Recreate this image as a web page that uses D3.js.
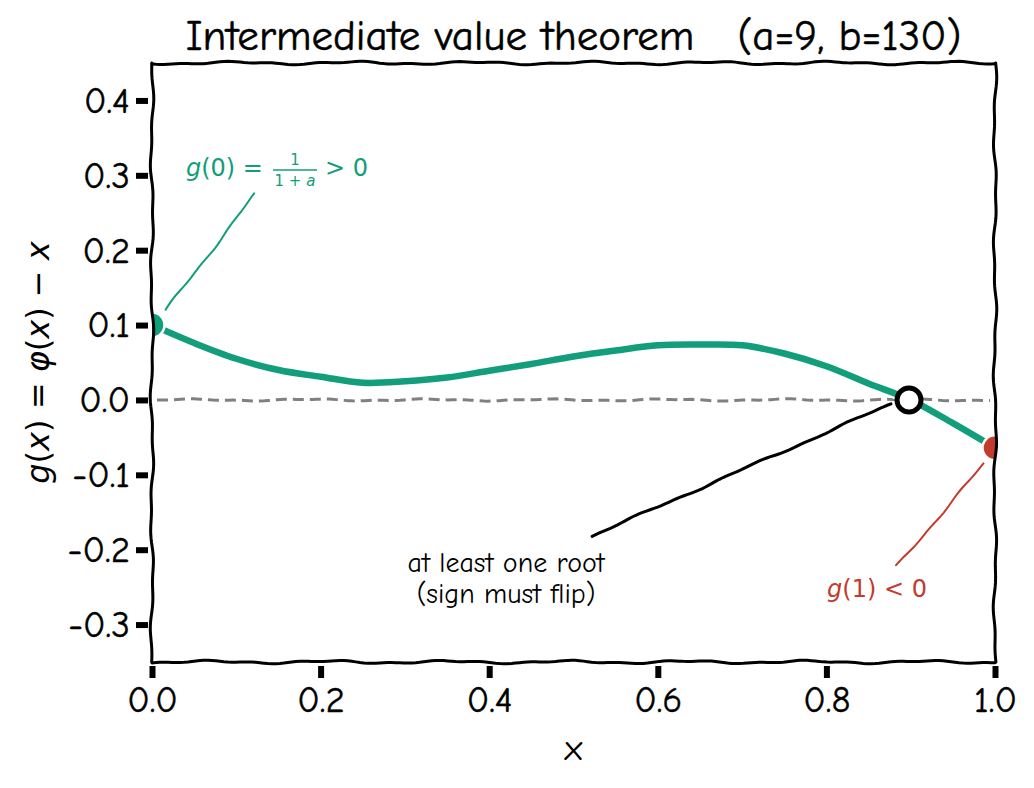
<!DOCTYPE html>
<html><head><meta charset="utf-8">
<script src="https://cdn.jsdelivr.net/npm/d3@7"></script>
<style>
html,body{margin:0;padding:0;background:#fff;}
svg{display:block;}
.comic{font-family:"Comic Sans MS","Comic Neue","Humor Sans","Noto Sans",sans-serif;}
.math{font-family:"DejaVu Sans",sans-serif;}
</style></head>
<body>
<svg id="chart" width="1034" height="788"></svg>
<script>
// ---- data ----
const xValues = [0.00,0.05,0.10,0.15,0.20,0.25,0.30,0.35,0.40,0.45,0.50,0.55,0.60,0.65,0.70,0.75,0.80,0.85,0.90,0.95,1.00];
const gValues = [0.100,0.076,0.055,0.040,0.031,0.023,0.025,0.030,0.039,0.048,0.058,0.066,0.073,0.074,0.073,0.062,0.045,0.022,0.000,-0.031,-0.064];
const xTicks = [0.0,0.2,0.4,0.6,0.8,1.0];
const yTicks = [-0.3,-0.2,-0.1,0.0,0.1,0.2,0.3,0.4];
const rootX = 0.898;
const g0 = 0.100, g1 = -0.064;
const titleText = "Intermediate value theorem   (a=9, b=130)";

const svg = d3.select("#chart");
const margin = {left:152, right:1034-995, top:63, bottom:788-662};
const W = 1034, H = 788;
const x = d3.scaleLinear().domain([0,1]).range([margin.left, W-margin.right]);
const y = d3.scaleLinear().domain([-0.35,0.45]).range([H-margin.bottom, margin.top]);

const green = "#129e7a", red = "#c23b2c";

// deterministic hand-drawn wobble (style only)
function sketch(pts, amp=1.6, seed=0){
  const out=[]; let t=0;
  for(let i=0;i<pts.length-1;i++){
    const [x0,y0]=pts[i],[x1,y1]=pts[i+1];
    const L=Math.hypot(x1-x0,y1-y0), n=Math.max(1,Math.ceil(L/4));
    const nx=-(y1-y0)/L, ny=(x1-x0)/L;
    for(let k=0;k<=n;k++){
      if(k===0 && i>0) continue;
      const f=k/n, tt=t+f*L;
      const d=amp*(0.65*Math.sin(tt/19+seed)+0.35*Math.sin(tt/7.3+seed*2.1));
      out.push([x0+(x1-x0)*f+nx*d, y0+(y1-y0)*f+ny*d]);
    }
    t+=L;
  }
  return out;
}
const line = d3.line();

const [xl,xr]=x.range(), [yb,yt]=y.range();

svg.append("defs").append("clipPath").attr("id","clip")
  .append("rect").attr("x",xl).attr("y",yt).attr("width",xr-xl).attr("height",yb-yt);

// zero dashed line
svg.append("path").attr("d",line(sketch([[x(0)+5,y(0)],[x(1)-5,y(0)]],1.2,3)))
  .attr("fill","none").attr("stroke","#808080").attr("stroke-width",3).attr("stroke-dasharray","11,6");

// curve
const plot = svg.append("g").attr("clip-path","url(#clip)");
const curveLine = d3.line().x((d,i)=>x(xValues[i])).y(d=>y(d)).curve(d3.curveCatmullRom.alpha(0.5));
plot.append("path").datum(gValues).attr("d",curveLine)
  .attr("fill","none").attr("stroke","#fff").attr("stroke-width",11).attr("stroke-linecap","round");
plot.append("path").datum(gValues).attr("d",curveLine)
  .attr("fill","none").attr("stroke",green).attr("stroke-width",6.5).attr("stroke-linecap","round");

// end markers (clipped)
plot.append("circle").attr("cx",x(0)).attr("cy",y(g0)).attr("r",12.5).attr("fill",green).attr("stroke","#fff").attr("stroke-width",2.5);
plot.append("circle").attr("cx",x(1)).attr("cy",y(g1)).attr("r",12.5).attr("fill",red).attr("stroke","#fff").attr("stroke-width",2.5);

// root marker
svg.append("circle").attr("cx",x(rootX)).attr("cy",y(0)).attr("r",12)
  .attr("fill","#fff").attr("stroke","#000").attr("stroke-width",5);

// annotation lines
function annLine(p0,p1,color,w,seed){
  const d=line(sketch([p0,p1],1.3,seed));
  svg.append("path").attr("d",d).attr("fill","none").attr("stroke","#fff").attr("stroke-width",w+4);
  svg.append("path").attr("d",d).attr("fill","none").attr("stroke",color).attr("stroke-width",w).attr("stroke-linecap","round");
}
annLine([255,194],[x(0)+14,y(g0)-15],green,2,1);
annLine([897,566],[x(1)-11,y(g1)+16],red,2,5);
annLine([592,536],[x(rootX)-18,y(0)+4],"#000",3,2);

// spines
const sp = {fill:"none",stroke:"#000","stroke-width":3,"stroke-linecap":"round"};
function spine(p0,p1,seed){
  const p=svg.append("path").attr("d",line(sketch([p0,p1],1.8,seed)));
  Object.entries(sp).forEach(([k,v])=>p.attr(k,v));
}
spine([xl,yt],[xr,yt],0.4);
spine([xl,yb],[xr,yb],1.7);
spine([xl,yt],[xl,yb],2.9);
spine([xr,yt],[xr,yb],4.2);

// axes
const xAxis = d3.axisBottom(x).tickValues(xTicks).tickFormat(d3.format(".1f")).tickSize(12).tickPadding(8);
const yAxis = d3.axisLeft(y).tickValues(yTicks).tickFormat(d=>d3.format(".1f")(d).replace("−","-")).tickSize(12).tickPadding(6);
const gx = svg.append("g").attr("transform",`translate(0,${yb+4})`).call(xAxis);
const gy = svg.append("g").attr("transform",`translate(${xl-4},0)`).call(yAxis);
[gx,gy].forEach(g=>{
  g.select(".domain").remove();
  g.selectAll(".tick line").attr("stroke","#000").attr("stroke-width",6);
  g.selectAll(".tick text").attr("class","comic").attr("font-size",37).attr("fill","#000")
    .attr("stroke","#000").attr("stroke-width",0.4);
});

// title & axis labels
svg.append("text").attr("class","comic").attr("x",(xl+xr)/2).attr("y",50)
  .attr("text-anchor","middle").attr("font-size",43).attr("fill","#000")
  .attr("stroke","#000").attr("stroke-width",0.5)
  .attr("xml:space","preserve").style("white-space","pre").text(titleText);
svg.append("text").attr("class","comic").attr("x",(xl+xr)/2).attr("y",760)
  .attr("text-anchor","middle").attr("font-size",37).attr("fill","#000").text("x");

const yl = svg.append("text").attr("class","math").attr("font-size",32).attr("fill","#000")
  .attr("text-anchor","middle").attr("transform",`translate(49,${(yt+yb)/2}) rotate(-90)`);
yl.append("tspan").attr("font-style","italic").text("g");
yl.append("tspan").text("(");
yl.append("tspan").attr("font-style","italic").text("x");
yl.append("tspan").text(") = ");
yl.append("tspan").attr("font-style","italic").text("φ");
yl.append("tspan").text("(");
yl.append("tspan").attr("font-style","italic").text("x");
yl.append("tspan").text(") − ");
yl.append("tspan").attr("font-style","italic").text("x");

// green annotation text g(0) = 1/(1+a) > 0
const ga = svg.append("g").attr("fill",green).attr("class","math");
const t1 = ga.append("text").attr("x",186).attr("y",176).attr("font-size",24);
t1.append("tspan").attr("font-style","italic").text("g");
t1.append("tspan").text("(0) =");
ga.append("text").attr("x",295).attr("y",165).attr("text-anchor","middle").attr("font-size",15).text("1");
ga.append("line").attr("x1",273).attr("x2",317).attr("y1",170).attr("y2",170).attr("stroke",green).attr("stroke-width",1.5);
const t2 = ga.append("text").attr("x",295).attr("y",186).attr("text-anchor","middle").attr("font-size",15);
t2.append("tspan").text("1 + ");
t2.append("tspan").attr("font-style","italic").text("a");
ga.append("text").attr("x",325).attr("y",176).attr("font-size",24).attr("xml:space","preserve").text("> 0");

// red annotation
const ra = svg.append("text").attr("class","math").attr("fill",red).attr("font-size",24)
  .attr("x",877).attr("y",597).attr("text-anchor","middle");
ra.append("tspan").attr("font-style","italic").text("g");
ra.append("tspan").text("(1) < 0");

// black annotation
const ba = svg.append("text").attr("class","comic").attr("font-size",28).attr("fill","#000").attr("text-anchor","middle");
ba.append("tspan").attr("x",506).attr("y",572).text("at least one root");
ba.append("tspan").attr("x",506).attr("y",603).text("(sign must flip)");
</script>
</body></html>
